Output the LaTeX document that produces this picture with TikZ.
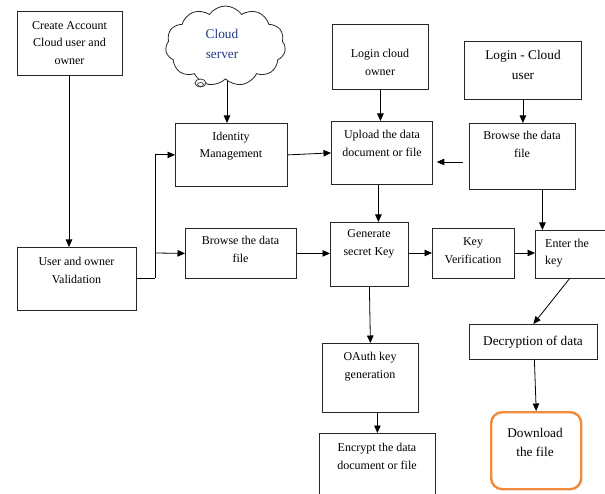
\documentclass[tikz,border=0pt]{standalone}
\usepackage{fontspec}
\setmainfont{Liberation Serif}
\usetikzlibrary{arrows.meta,shapes.symbols,calc}
\definecolor{cloudblue}{RGB}{31,56,130}
\definecolor{dlorange}{RGB}{240,138,60}
\tikzset{
  box/.style={draw=black!85, line width=0.8pt, rectangle, inner sep=0pt, anchor=north west},
  txt/.style={align=center, font=\fontsize{12}{17.5}\selectfont, inner sep=0pt},
  bigtxt/.style={align=center, font=\fontsize{13.3}{19.5}\selectfont, inner sep=0pt},
  conn/.style={draw=black, line width=0.8pt, -{Triangle[length=7.5pt,width=6.5pt]}},
  plain/.style={draw=black, line width=0.8pt},
}
\begin{document}
\begin{tikzpicture}[x=1pt,y=-1pt]
\useasboundingbox (0,0) rectangle (605,494);

% boxes
\node[box, minimum width=105pt, minimum height=64pt] (create) at (17,11) {};
\node[txt] (createT) at (69.5,43) {Create Account\\Cloud user and\\owner};

\node[cloud, cloud puffs=11, cloud puff arc=110, aspect=1.5, draw=black!85, line width=0.8pt,
      minimum width=120pt, minimum height=80pt, inner sep=0pt] (cloud) at (225.5,46) {};
\node[bigtxt, text=cloudblue] (cloudT) at (222,44) {Cloud\\server};
\draw[black!85, line width=0.7pt, fill=white] (200.5,83) ellipse (5.5pt and 4pt);
\draw[black!85, line width=0.6pt] (200.5,84.5) ellipse (3pt and 2pt);
\coordinate (cloudB) at (227,81);

\node[box, minimum width=112pt, minimum height=63pt] (ident) at (175,123) {};
\node[txt] (identT) at (231,146) {Identity\\Management};

\node[box, minimum width=96pt, minimum height=65pt] (lowner) at (332,24) {};
\node[txt] (lownerT) at (380,62.5) {Login cloud\\owner};

\node[box, minimum width=117pt, minimum height=58pt] (luser) at (464,41) {};
\node[bigtxt] (luserT) at (523,65) {Login - Cloud\\user};

\node[box, minimum width=101pt, minimum height=63pt] (upload) at (331,121) {};
\node[txt] (uploadT) at (382,143.5) {Upload the data\\document or file};

\node[box, minimum width=106pt, minimum height=66pt] (browseR) at (469,123) {};
\node[txt] (browseRT) at (522,144.5) {Browse the data\\file};

\node[box, minimum width=119pt, minimum height=63pt] (valid) at (17,247) {};
\node[txt] (validT) at (76.5,270.5) {User and owner\\Validation};

\node[box, minimum width=111pt, minimum height=50pt] (browseL) at (185,228) {};
\node[txt] (browseLT) at (240.5,249.5) {Browse the data\\file};

\node[box, minimum width=78pt, minimum height=64pt] (gen) at (330,222) {};
\node[txt] (genT) at (369,244) {Generate\\secret Key};

\node[box, minimum width=82pt, minimum height=50pt] (keyver) at (432,228) {};
\node[txt] (keyverT) at (473,250.5) {Key\\Verification};

\node[box, minimum width=80pt, minimum height=48pt] (enter) at (535,230) {};
\node[txt, align=left, anchor=west] (enterT) at (545,253) {Enter the\\key};
\coordinate (enterB) at (570,278);

\node[box, minimum width=128pt, minimum height=35pt] (decrypt) at (469,324) {};
\node[bigtxt] (decryptT) at (533,342) {Decryption of data};

\node[box, minimum width=96pt, minimum height=69pt] (oauth) at (322,343) {};
\node[txt] (oauthT) at (370,366.5) {OAuth key\\generation};

\node[box, minimum width=116pt, minimum height=66pt] (encrypt) at (319,433) {};
\node[txt] (encryptT) at (377,456.5) {Encrypt the data\\document or file};

\node[box, draw=dlorange, line width=2.4pt, rounded corners=11pt, minimum width=90pt, minimum height=77pt] (download) at (490,411) {};
\node[bigtxt] (downloadT) at (535,442.5) {Download\\the file};

% connectors
\draw[conn] (create.south -| 69,0) -- (69,0 |- valid.north);
\draw[conn] (cloudB) -- (cloudB |- ident.north);
\coordinate (vbend) at (155,278);
\coordinate (vsplit) at (155,253);
\draw[plain] (valid.east |- vbend) -- (vbend);
\draw[conn] (vbend) -- (vbend |- ident.west) -- (ident.west);
\draw[conn] (vsplit) -- (browseL.west);
\draw[conn] (ident.east) -- (upload.west);
\draw[conn] (lowner.south) -- (lowner.south |- upload.north);
\draw[conn] (luser.south) -- (luser.south |- browseR.north);
\draw[conn, shorten <=6pt, shorten >=4pt] (browseR.west |- 0,162) -- (upload.east |- 0,162);
\coordinate (upB) at ($(upload.south)+(-3.5,0)$);
\draw[conn] (upB) -- (upB |- gen.north);
\draw[conn] (browseL.east) -- (gen.west |- browseL.east);
\draw[conn] (gen.east |- 0,253) -- (keyver.west |- 0,253);
\draw[conn] (keyver.east |- 0,253) -- (enter.west |- 0,253);
\coordinate (brB) at ($(browseR.south)+(20,0)$);
\draw[conn] (brB) -- (brB |- enter.north);
\draw[conn] (enterB) -- (decrypt.north);
\draw[conn] ($(decrypt.south)+(1,0)$) -- (download.north);
\draw[conn] (gen.south) -- (oauth.north);
\draw[conn] (encrypt.north |- oauth.south) -- (encrypt.north);
\end{tikzpicture}
\end{document}
